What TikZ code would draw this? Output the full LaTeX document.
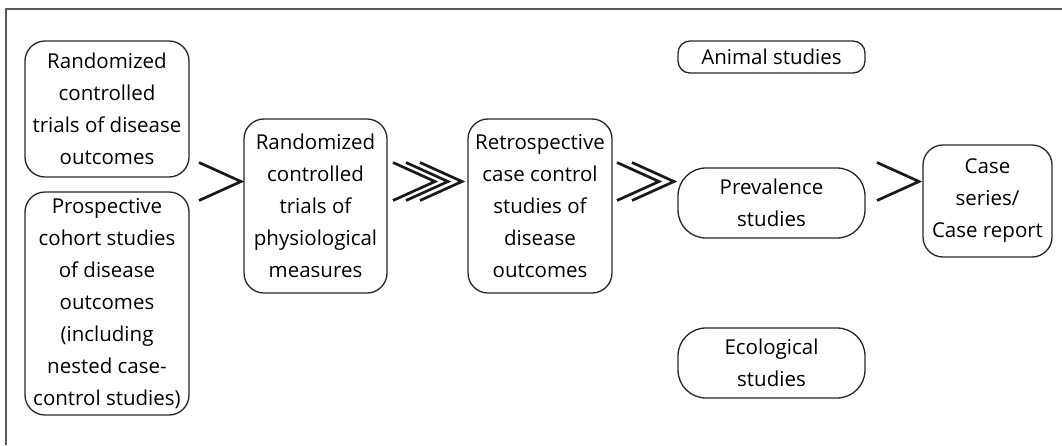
\documentclass[tikz,border=0pt]{standalone}
\usepackage{fontspec}
\setmainfont{Open Sans}
\usetikzlibrary{positioning}

\tikzset{
  studybox/.style={draw=black!85, line width=1.3pt, rounded corners=20pt,
    align=center, inner sep=0pt, font=\fontsize{20.5}{32}\selectfont},
  chevron/.style={black!90, line width=2.7pt, line join=miter},
  frameline/.style={black!65, line width=2pt}
}

\begin{document}
\begin{tikzpicture}[x=1pt,y=-1pt]

\newcommand{\mychevron}[2]{% x depart, y pointe
\draw[chevron] (#1,#2-19) -- (#1+42,#2) -- (#1,#2+19);
}

\useasboundingbox (0,0) rectangle (1062,445);

%frame
\draw[frameline] (1062,9) -- (6,9) -- (6,445);

%rct disease outcomes
\node[studybox, minimum width=164pt, minimum height=136pt] (rctdisease) at (107,109)
  {Randomized\\controlled\\trials of disease\\outcomes};
%prospective cohort
\node[studybox, minimum width=164pt, minimum height=223pt] (cohort) at (107,303.5)
  {Prospective\\cohort studies\\of disease\\outcomes\\(including\\nested case-\\control studies)};
%rct physiological
\node[studybox, minimum width=143pt, minimum height=174pt] (rctphysio) at (315.5,206)
  {Randomized\\controlled\\trials of\\physiological\\measures};
%retrospective case control
\node[studybox, minimum width=144pt, minimum height=174pt] (casecontrol) at (540,206)
  {Retrospective\\case control\\studies of\\disease\\outcomes};
%animal
\node[studybox, rounded corners=12pt, minimum width=187pt, minimum height=32pt] (animal) at (771.5,57)
  {Animal studies};
%prevalence
\node[studybox, rounded corners=28pt, minimum width=187pt, minimum height=70pt] (prevalence) at (771.5,203)
  {Prevalence\\studies};
%ecological
\node[studybox, rounded corners=28pt, minimum width=187pt, minimum height=70pt] (ecological) at (771.5,363)
  {Ecological\\studies};
%case series
\node[studybox, minimum width=129pt, minimum height=112pt] (caseseries) at (987.5,201)
  {Case\\series/\\Case report};

%cohort/rct -> physiological
\mychevron{199}{181.5}
%physiological -> case control
\mychevron{393}{181.5}
\mychevron{406}{181.5}
\mychevron{420}{181.5}
%case control -> prevalence
\mychevron{617}{181.5}
\mychevron{632}{181.5}
%prevalence -> case series
\mychevron{877}{181.5}

\end{tikzpicture}
\end{document}
